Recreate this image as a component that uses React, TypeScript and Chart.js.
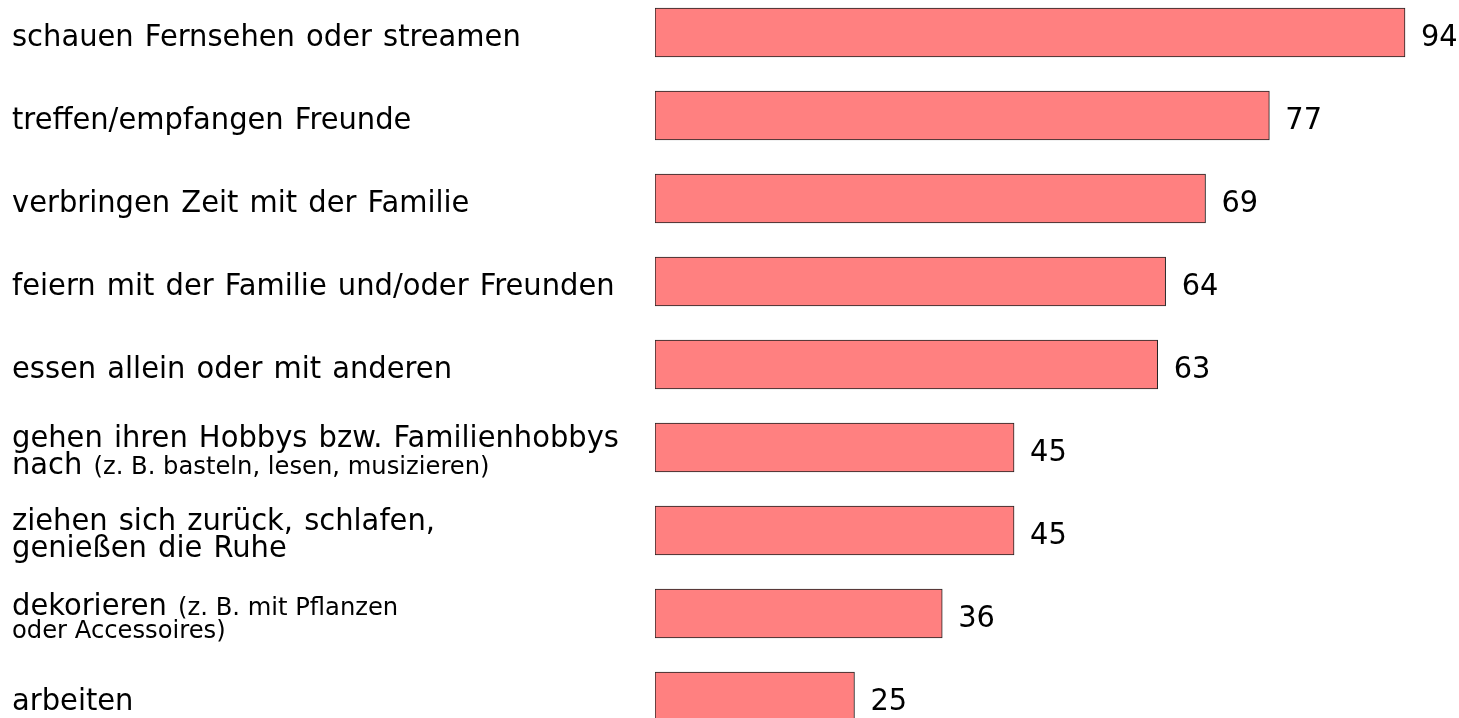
import React, { useEffect, useRef } from "react";
import { Chart, registerables } from "chart.js";

Chart.register(...registerables);

// Category labels: each entry is a list of lines; text in {braces} is set in the smaller font.
const categoryLines: string[][] = [
  ["schauen Fernsehen oder streamen"],
  ["treffen/empfangen Freunde"],
  ["verbringen Zeit mit der Familie"],
  ["feiern mit der Familie und/oder Freunden"],
  ["essen allein oder mit anderen"],
  ["gehen ihren Hobbys bzw. Familienhobbys", "nach {(z. B. basteln, lesen, musizieren)}"],
  ["ziehen sich zurück, schlafen,", "genießen die Ruhe"],
  ["dekorieren {(z. B. mit Pflanzen}", "{oder Accessoires)}"],
  ["arbeiten"],
];

const values: number[] = [94, 77, 69, 64, 63, 45, 45, 36, 25];

const plainLabels = categoryLines.map((lines) => lines.join(" ").replace(/[{}]/g, ""));

const FONT_FAMILY = "'DejaVu Sans', Verdana, sans-serif";
const BIG = 30.5;
const SMALL = 25.5;
const VALUE_SIZE = 31;
const SX = 0.95; // horizontal squeeze of the glyphs
const VSX = 0.93;

type Seg = { t: string; small: boolean };

function parseLine(line: string): Seg[] {
  const parts = line.split(/(\{[^}]*\})/).filter((p) => p.length > 0);
  return parts.map((p) =>
    p.startsWith("{") ? { t: p.slice(1, -1), small: true } : { t: p, small: false }
  );
}

function drawScaled(ctx: any, text: string, x: number, y: number, sx: number) {
  ctx.save();
  ctx.translate(x, y);
  ctx.scale(sx, 1);
  ctx.fillText(text, 0, 0);
  ctx.restore();
  return ctx.measureText(text).width * sx;
}

const labelPlugin = {
  id: "customLabels",
  afterDatasetsDraw(chart: any) {
    const ctx: any = chart.ctx;
    const meta = chart.getDatasetMeta(0);
    ctx.save();
    ctx.fillStyle = "#000";
    ctx.textBaseline = "alphabetic";
    ctx.textAlign = "left";
    meta.data.forEach((bar: any, i: number) => {
      const cy = bar.y;
      // value label
      ctx.wordSpacing = "0px";
      ctx.font = `${VALUE_SIZE}px ${FONT_FAMILY}`;
      drawScaled(ctx, String(values[i]), bar.x + 16, cy + 13.5, VSX);
      // category label
      const lines = categoryLines[i].map(parseLine);
      const lineSizes = lines.map((segs) =>
        segs.some((s) => !s.small) ? BIG : SMALL
      );
      const gaps: number[] = [];
      for (let k = 1; k < lines.length; k++) gaps.push(lineSizes[k] * 0.91);
      const total = gaps.reduce((a, b) => a + b, 0);
      let baseline = lines.length > 1 ? cy + 13 - total / 2 : cy + 13.5;
      lines.forEach((segs, k) => {
        if (k > 0) baseline += gaps[k - 1];
        let x = 12;
        segs.forEach((s) => {
          ctx.font = `${s.small ? SMALL : BIG}px ${FONT_FAMILY}`;
          ctx.wordSpacing = s.small ? "0px" : "2px";
          x += drawScaled(ctx, s.t, x, baseline, SX);
        });
      });
    });
    ctx.restore();
  },
};

export default function App() {
  const canvasRef = useRef<HTMLCanvasElement | null>(null);

  useEffect(() => {
    if (!canvasRef.current) return;
    const chart = new Chart(canvasRef.current, {
      type: "bar",
      data: {
        labels: plainLabels,
        datasets: [
          {
            data: values,
            backgroundColor: "#FF8080",
            borderColor: "#222222",
            borderWidth: 1,
            borderSkipped: false,
            barThickness: 49,
          },
        ],
      },
      options: {
        indexAxis: "y",
        responsive: false,
        animation: false,
        devicePixelRatio: 1,
        layout: { padding: { left: 655, right: 6.13, top: 0, bottom: 0 } },
        scales: {
          x: { display: false, min: 0, max: 100 },
          y: { display: false, offset: true },
        },
        plugins: {
          legend: { display: false },
          tooltip: { enabled: false },
        },
      },
      plugins: [labelPlugin],
    });
    return () => chart.destroy();
  }, []);

  return (
    <div
      style={{
        position: "absolute",
        left: 0,
        top: 0,
        width: 1459,
        height: 718,
        overflow: "hidden",
        background: "#fff",
      }}
    >
      <canvas
        ref={canvasRef}
        width={1459}
        height={747}
        style={{ position: "absolute", left: 0, top: -9, width: 1459, height: 747 }}
      />
    </div>
  );
}
